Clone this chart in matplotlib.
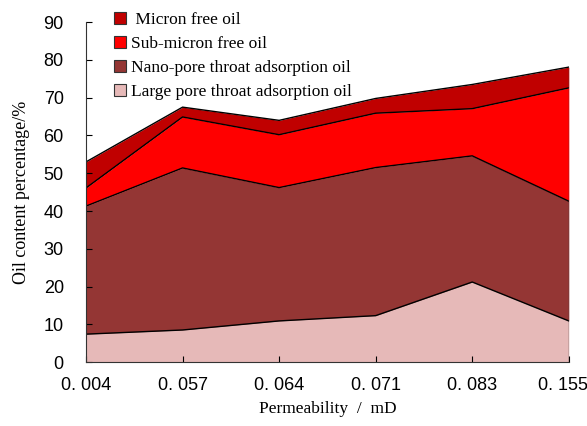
import numpy as np
import matplotlib.pyplot as plt
import matplotlib.transforms as mtransforms
from matplotlib.patches import Patch

perm = ['0. 004', '0. 057', '0. 064', '0. 071', '0. 083', '0. 155']
large_pore = [7.4, 8.5, 10.9, 12.3, 21.2, 10.9]
nano_pore = [33.9, 42.9, 35.3, 39.2, 33.4, 31.7]
sub_micron = [4.8, 13.5, 14.0, 14.4, 12.5, 30.0]
micron = [6.9, 2.6, 3.8, 3.9, 6.4, 5.5]

colors = ['#E6B9B8', '#943634', '#FF0000', '#C00000']
names = ['Large pore throat adsorption oil', 'Nano-pore throat adsorption oil',
         'Sub-micron free oil', ' Micron free oil']

fig = plt.figure(figsize=(5.87, 4.26), dpi=100)
ax = fig.add_axes([0.1465, 0.150, 0.8225, 0.798])

x = np.arange(len(perm))
series = [large_pore, nano_pore, sub_micron, micron]
bottom = np.zeros(len(perm))
for vals, c in zip(series, colors):
    top = bottom + np.array(vals)
    ax.fill_between(x, bottom, top, color=c, linewidth=0)
    ax.plot(x, top, color='black', linewidth=1)
    bottom = top
ax.plot([x[-1], x[-1]], [0, bottom[-1]], color='#444444', linewidth=1)

ax.set_xlim(0, len(perm) - 1)
ax.set_ylim(0, 90)
ax.set_xticks(x)
ax.set_xticklabels(perm, family='Liberation Sans', fontsize=13)
ax.set_yticks(range(0, 91, 10))
for lab in ax.get_yticklabels():
    lab.set_family('Liberation Sans')
    lab.set_fontsize(13)
ax.tick_params(direction='in', length=4)
ax.tick_params(axis='x', pad=11)
ax.tick_params(axis='y', pad=16)
ax.spines['top'].set_visible(False)
ax.spines['right'].set_visible(False)
for s in ['left', 'bottom']:
    ax.spines[s].set_color('#333333')

# keep the last tick label inside the figure
last = ax.get_xticklabels()[-1]
last.set_transform(last.get_transform() +
                   mtransforms.ScaledTranslation(-0.06, 0, fig.dpi_scale_trans))

ax.set_xlabel('Permeability  /  mD', family='Liberation Serif', fontsize=12.5, labelpad=5)
ax.set_ylabel('Oil content percentage/%', family='Liberation Serif', fontsize=13, labelpad=10)

handles = [Patch(facecolor=c, edgecolor='#333333', linewidth=0.8) for c in colors[::-1]]
ax.legend(handles, names[::-1], loc='upper left', bbox_to_anchor=(0.025, 1.075),
          frameon=False, handlelength=0.7, handleheight=0.7, handletextpad=0.3,
          labelspacing=0.45, prop={'family': 'Liberation Serif', 'size': 12.5})

fig.savefig('out.png', dpi=100)
